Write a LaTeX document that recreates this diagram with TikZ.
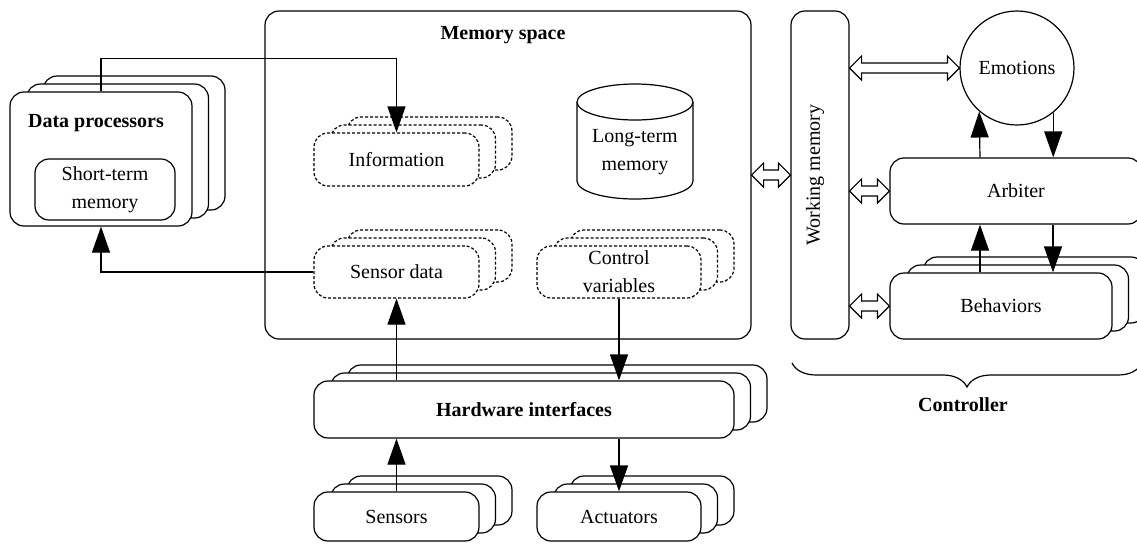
\documentclass[tikz,border=0pt]{standalone}
\usepackage{fontspec}
\setmainfont{Liberation Serif}
\usetikzlibrary{arrows.meta,calc,decorations.pathreplacing}
\tikzset{
  box/.style={draw, rounded corners=7pt, fill=white, inner sep=0pt, align=center},
  dbox/.style={box, dash pattern=on 1.5pt off 1pt},
  bbox/.style={box, font=\bfseries},
  arr/.style={-{Triangle[length=13pt,width=9pt]}},
  hollow/.style={draw, fill=white, line join=miter},
  bold/.style={font=\bfseries},
}
\newcommand\mystack[6]{%
  \node[#5, minimum width=#3*0.5pt, minimum height=#4*0.5pt] (#1-3) at ($#2+(33,-16)$) {};
  \node[#5, minimum width=#3*0.5pt, minimum height=#4*0.5pt] (#1-2) at ($#2+(16.5,-8)$) {};
  \node[#5, minimum width=#3*0.5pt, minimum height=#4*0.5pt] (#1) at #2 {#6};
}
\newcommand\hdarrow[2]{%
  \path[hollow] let \p1=#1, \p2=#2 in
    (\x1,\y1) -- (\x1+6pt,\y1+6pt) -- (\x1+6pt,\y1+2.5pt) -- (\x2-6pt,\y1+2.5pt)
    -- (\x2-6pt,\y1+6pt) -- (\x2,\y1) -- (\x2-6pt,\y1-6pt) -- (\x2-6pt,\y1-2.5pt)
    -- (\x1+6pt,\y1-2.5pt) -- (\x1+6pt,\y1-6pt) -- cycle;
}
\begin{document}
\begin{tikzpicture}[x=0.5pt,y=-0.5pt,line width=0.6pt]
\clip (0,0) rectangle (1137,543);

% Memory space
\node[box, minimum width=486*0.5pt, minimum height=328*0.5pt] (ms) at (508,175) {};
\node[bold] (mslabel) at (503,35) {Memory space};

% Data processors
\mystack{dp}{(101,159)}{182}{134}{box}{}
\node[bold] (dplabel) at (96,123) {Data processors};
\node[box, minimum width=140*0.5pt, minimum height=61*0.5pt] (stm) at (105,189.5) {Short-term\\[2pt]memory};

% memory contents
\mystack{info}{(396.5,159.5)}{165}{53}{dbox}{Information}
\mystack{sd}{(396.5,272)}{165}{52}{dbox}{Sensor data}
\mystack{cv}{(619,272)}{164}{52}{dbox}{Control\\[2pt]variables}

% Long-term memory cylinder
\draw[fill=white] (577,102) -- (577,181) arc[start angle=180, end angle=360, x radius=29pt, y radius=9pt] -- (693,102);
\draw[fill=white] (635,102) ellipse [x radius=29pt, y radius=9pt];
\node[align=center] (ltm) at (635,152) {Long-term\\[2pt]memory};

% Hardware
\mystack{hw}{(524,409.5)}{420}{57}{bbox}{Hardware interfaces}
\mystack{sen}{(396.5,516.5)}{165}{49}{box}{Sensors}
\mystack{act}{(619,516.5)}{164}{49}{box}{Actuators}

% Controller
\node[box, minimum width=58*0.5pt, minimum height=328*0.5pt] (wm) at (820,175) {};
\node[rotate=90] (wmlabel) at (815,175) {Working memory};
\node[draw, circle, minimum size=57pt, inner sep=0pt, fill=white] (emo) at (1017,68) {Emotions};
\node[box, minimum width=252*0.5pt, minimum height=66*0.5pt] (arb) at (1016,191) {Arbiter};
\mystack{beh}{(1001,306)}{222}{66}{box}{Behaviors}

\coordinate (c1) at (980,0);
\coordinate (c2) at (1053,0);

% arrows
\draw[arr] (dp.north) -- ++(0,-33) -| (info.north);
\draw[arr] (sd.west) -| (dp.south);
\draw[arr] (sd.south |- hw.north) -- (sd.south);
\draw[arr] (cv.south) -- (cv.south |- hw.north);
\draw[arr] (sen.north) -- (sen.north |- hw.south);
\draw[arr] (act.north |- hw.south) -- (act.north);

\draw[arr] (c1 |- arb.north) -- (emo.229.5);
\draw[arr] (emo.309.2) -- (emo.309.2 |- arb.north);
\draw[arr] (c1 |- beh.north) -- (c1 |- arb.south);
\draw[arr] (c2 |- arb.south) -- (c2 |- beh.north);

\hdarrow{(ms.east)}{(wm.west)}
\hdarrow{(wm.east |- emo)}{(emo.west)}
\hdarrow{(wm.east |- arb)}{(arb.west)}
\hdarrow{(wm.east |- beh)}{(beh.west)}

% brace
\coordinate (bl) at (792,363);
\coordinate (br) at (1142,363);
\draw[decorate, decoration={brace, amplitude=12pt, mirror}] (bl) -- (br);
\node[bold] (ctl) at (963,405) {Controller};
\end{tikzpicture}
\end{document}
